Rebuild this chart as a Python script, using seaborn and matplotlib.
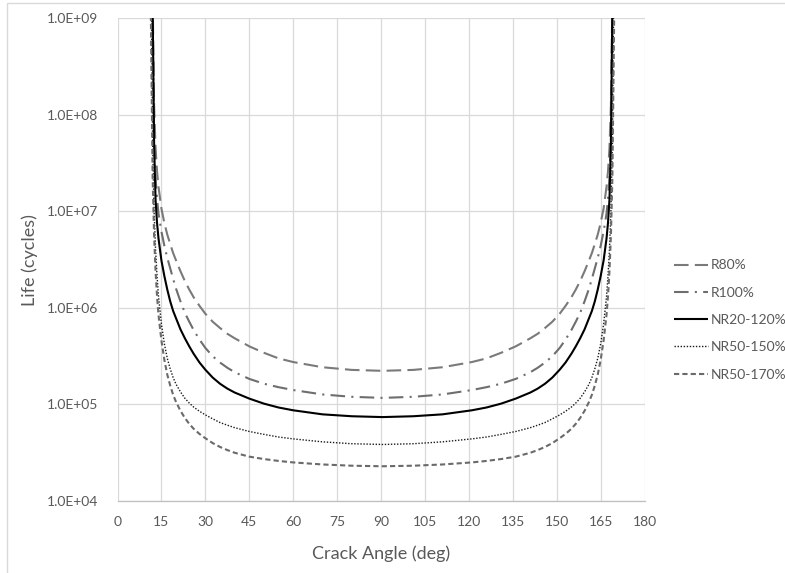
import matplotlib
matplotlib.use("Agg")
import matplotlib.pyplot as plt
import seaborn as sns
import pandas as pd
from matplotlib.patches import Rectangle

# ---- data ----
angle = [11, 11.5, 12, 12.5, 13, 13.5, 14, 15, 16, 17, 18, 19, 20, 21.5, 23, 24.5, 26, 28, 30, 32.5,
         35, 37.5, 40, 45, 50, 55, 60, 70, 80,
         90.5,
         101, 111, 121, 126, 131, 136, 141, 143.5, 146, 148.5, 151, 153, 155, 156.5, 158, 159.5, 161,
         162, 163, 164, 165, 166, 167, 167.5, 168, 168.5, 169, 169.5, 170]

life_r80 = [1e11, 2.5e10, 1.6e9, 1.26e8, 4.5e7, 2.6e7, 1.8e7, 1.07e7, 7.6e6, 5.75e6, 4.6e6, 3.7e6, 3.1e6,
            2.4e6, 1.9e6, 1.55e6, 1.29e6, 1.05e6, 8.7e5, 7.2e5, 6.2e5, 5.4e5, 4.85e5, 4.0e5, 3.43e5,
            3.0e5, 2.75e5, 2.43e5, 2.28e5,
            2.23e5,
            2.28e5, 2.43e5, 2.75e5, 3.0e5, 3.43e5, 4.0e5, 4.85e5, 5.4e5, 6.2e5, 7.2e5, 8.7e5, 1.05e6,
            1.29e6, 1.55e6, 1.9e6, 2.4e6, 3.1e6, 3.7e6, 4.6e6, 5.75e6, 7.6e6, 1.07e7, 1.8e7, 2.6e7,
            4.5e7, 1.26e8, 1.6e9, 2.5e10, 1e11]

life_r100 = [1e11, 2.0e10, 1.0e9, 5.6e7, 2.24e7, 1.35e7, 9.5e6, 6.2e6, 4.4e6, 3.3e6, 2.57e6, 2.0e6, 1.58e6,
             1.17e6, 8.9e5, 7.2e5, 5.9e5, 4.7e5, 3.85e5, 3.16e5, 2.72e5, 2.4e5, 2.16e5, 1.84e5, 1.64e5,
             1.51e5, 1.41e5, 1.27e5, 1.2e5,
             1.17e5,
             1.2e5, 1.27e5, 1.41e5, 1.51e5, 1.64e5, 1.84e5, 2.16e5, 2.4e5, 2.72e5, 3.16e5, 3.85e5, 4.7e5,
             5.9e5, 7.2e5, 8.9e5, 1.17e6, 1.58e6, 2.0e6, 2.57e6, 3.3e6, 4.4e6, 6.2e6, 9.5e6, 1.35e7,
             2.24e7, 5.6e7, 1.0e9, 2.0e10, 1e11]

life_nr20_120 = [1e11, 2.0e10, 1.26e9, 5.0e7, 1.32e7, 7.6e6, 5.25e6, 3.1e6, 2.14e6, 1.55e6, 1.17e6, 9.3e5,
                 7.8e5, 6.0e5, 4.85e5, 4.0e5, 3.35e5, 2.72e5, 2.29e5, 1.9e5, 1.64e5, 1.46e5, 1.33e5,
                 1.15e5, 1.02e5, 9.3e4, 8.7e4, 7.9e4, 7.55e4,
                 7.4e4,
                 7.55e4, 7.9e4, 8.7e4, 9.3e4, 1.02e5, 1.15e5, 1.33e5, 1.46e5, 1.64e5, 1.9e5, 2.29e5, 2.72e5,
                 3.35e5, 4.0e5, 4.85e5, 6.0e5, 7.8e5, 9.3e5, 1.17e6, 1.55e6, 2.14e6, 3.1e6, 5.25e6, 7.6e6,
                 1.32e7, 5.0e7, 1.26e9, 2.0e10, 1e11]

life_nr50_150 = [3.2e10, 2.5e9, 5.0e7, 1.0e7, 4.0e6, 2.14e6, 1.32e6, 6.8e5, 4.25e5, 3.0e5, 2.34e5, 1.9e5,
                 1.62e5, 1.35e5, 1.16e5, 1.035e5, 9.4e4, 8.5e4, 7.8e4, 7.1e4, 6.5e4, 6.1e4, 5.75e4,
                 5.25e4, 4.9e4, 4.6e4, 4.4e4, 4.1e4, 3.92e4,
                 3.85e4,
                 3.92e4, 4.1e4, 4.4e4, 4.6e4, 4.9e4, 5.25e4, 5.75e4, 6.1e4, 6.5e4, 7.1e4, 7.8e4, 8.5e4,
                 9.4e4, 1.035e5, 1.16e5, 1.35e5, 1.62e5, 1.9e5, 2.34e5, 3.0e5, 4.25e5, 6.8e5, 1.32e6,
                 2.14e6, 4.0e6, 1.0e7, 5.0e7, 2.5e9, 3.2e10]

life_nr50_170 = [1.6e10, 5.0e8, 2.24e7, 5.6e6, 2.4e6, 1.32e6, 8.5e5, 4.6e5, 2.9e5, 2.04e5, 1.57e5, 1.26e5,
                 1.06e5, 8.6e4, 7.25e4, 6.3e4, 5.6e4, 4.95e4, 4.47e4, 3.98e4, 3.63e4, 3.37e4, 3.16e4,
                 2.88e4, 2.72e4, 2.6e4, 2.51e4, 2.39e4, 2.32e4,
                 2.29e4,
                 2.32e4, 2.39e4, 2.51e4, 2.6e4, 2.72e4, 2.88e4, 3.16e4, 3.37e4, 3.63e4, 3.98e4, 4.47e4,
                 4.95e4, 5.6e4, 6.3e4, 7.25e4, 8.6e4, 1.06e5, 1.26e5, 1.57e5, 2.04e5, 2.9e5, 4.6e5, 8.5e5,
                 1.32e6, 2.4e6, 5.6e6, 2.24e7, 5.0e8, 1.6e10]

series_names = ["R80%", "R100%", "NR20-120%", "NR50-150%", "NR50-170%"]
series_values = [life_r80, life_r100, life_nr20_120, life_nr50_150, life_nr50_170]

x_ticks = [0, 15, 30, 45, 60, 75, 90, 105, 120, 135, 150, 165, 180]
y_ticks = [1e4, 1e5, 1e6, 1e7, 1e8, 1e9]
y_tick_labels = ["1.0E+04", "1.0E+05", "1.0E+06", "1.0E+07", "1.0E+08", "1.0E+09"]

# ---- styles ----
styles = {
    "R80%":      dict(color="#7a7a7a", lw=1.5, dashes=(7, 3)),
    "R100%":     dict(color="#6e6e6e", lw=1.5, dashes=(7, 3, 1, 3)),
    "NR20-120%": dict(color="#000000", lw=1.5, dashes=None),
    "NR50-150%": dict(color="#1a1a1a", lw=1.0, dashes=(1, 1.2)),
    "NR50-170%": dict(color="#6a6a6a", lw=1.5, dashes=(2.5, 1.5)),
}

sns.set_theme(style="white")
plt.rcParams["font.family"] = ["Lato", "DejaVu Sans"]

fig = plt.figure(figsize=(7.85, 5.73), dpi=100)
ax = fig.add_axes([117.5 / 785, 1 - 501 / 573, (644.6 - 117.5) / 785, (501 - 18.3) / 573])

rows = []
for name, vals in zip(series_names, series_values):
    for a, v in zip(angle, vals):
        rows.append((name, a, v))
df = pd.DataFrame(rows, columns=["series", "angle", "life"])

for name in series_names:
    st = styles[name]
    sub = df[df["series"] == name]
    sns.lineplot(data=sub, x="angle", y="life", ax=ax, color=st["color"], linewidth=st["lw"],
                 estimator=None, sort=False, label=name)
    line = ax.lines[-1]
    if st["dashes"] is not None:
        line.set_dashes(st["dashes"])
    line.set_solid_capstyle("butt")
    line.set_dash_capstyle("butt")
    line.set_solid_joinstyle("round")

ax.set_yscale("log")
ax.set_ylim(1e4, 1e9)
ax.set_xlim(0, 180)
ax.set_xticks(x_ticks)
ax.set_xticklabels([str(t) for t in x_ticks])
ax.set_yticks(y_ticks)
ax.set_yticklabels(y_tick_labels)
ax.minorticks_off()

ax.grid(True, which="major", color="#d9d9d9", linewidth=0.9)
ax.set_axisbelow(True)
for s in ["top", "right", "left"]:
    ax.spines[s].set_visible(False)
ax.spines["bottom"].set_color("#bfbfbf")
ax.spines["bottom"].set_linewidth(0.9)
ax.tick_params(axis="both", length=0, labelsize=10, colors="#595959")
ax.tick_params(axis="x", pad=11)
ax.tick_params(axis="y", pad=14)

ax.set_xlabel("Crack Angle (deg)", fontsize=13, color="#595959", labelpad=12)
ax.set_ylabel("Life (cycles)", fontsize=13, color="#595959", labelpad=6)

handles, labels = ax.get_legend_handles_labels()
ax.get_legend().remove()
leg = fig.legend(handles, labels, loc="center left", bbox_to_anchor=(0.852, 0.4415),
                 frameon=False, fontsize=10, handlelength=2.4, handletextpad=0.2,
                 labelspacing=1.1, borderaxespad=0)
for t in leg.get_texts():
    t.set_color("#595959")

fig.patches.append(Rectangle((7 / 785, -0.05), 1.2, 1.05 - 3 / 573, transform=fig.transFigure,
                             fill=False, edgecolor="#d9d9d9", linewidth=1.0))

fig.savefig("out.png", dpi=100, facecolor="white")
